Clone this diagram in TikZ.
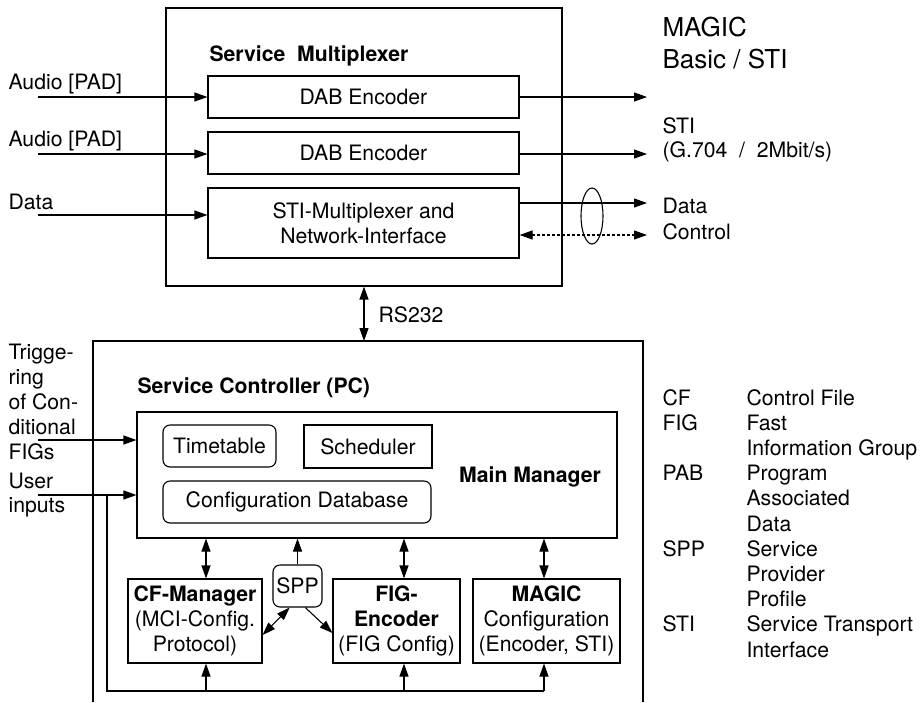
\documentclass[tikz,border=0pt]{standalone}
\usepackage{fontspec}
\setmainfont{TeX Gyre Heros}
\usetikzlibrary{arrows.meta}

\tikzset{
  blk/.style={draw, inner sep=0pt},
  rblk/.style={blk, rounded corners=7pt},
  lbl/.style={inner sep=0pt, anchor=base west},
  btxt/.style={font=\fontsize{21.2}{25}\selectfont\bfseries},
  big/.style={font=\fontsize{26}{32}\selectfont},
  sig/.style={-{Triangle[length=13pt,width=9pt]}},
  bisig/.style={{Triangle[length=13pt,width=9pt]}-{Triangle[length=13pt,width=9pt]}},
}

\begin{document}
\begin{tikzpicture}[x=1pt,y=-1pt,line width=1.1pt,font=\fontsize{21.2}{25}\selectfont]
   \useasboundingbox (0,0) rectangle (920,702);

   % service multiplexer
   \node[blk, minimum width=396pt, minimum height=278pt] (smux) at (364,147) {};
   \node[lbl, btxt] (smuxt) at (209,61) {Service \ Multiplexer};
   \node[blk, minimum width=311pt, minimum height=42pt] (enc1) at (363.5,97) {DAB Encoder};
   \node[blk, minimum width=311pt, minimum height=42pt] (enc2) at (363.5,153) {DAB Encoder};
   \node[blk, minimum width=311pt, minimum height=70pt, align=center] (stimux) at (363.5,223) {STI-Multiplexer and\\Network-Interface};

   % inputs
   \coordinate (ina1) at (38,97);
   \coordinate (ina2) at (38,154);
   \coordinate (ind) at (38,215);
   \node[lbl] (la1) at (8,89) {Audio [PAD]};
   \node[lbl] (la2) at (8,146) {Audio [PAD]};
   \node[lbl] (ld) at (8,209) {Data};
   \draw[sig] (ina1) -- (enc1.west);
   \draw[sig] (ina2) -- (enc2.west |- ina2);
   \draw[sig] (ind) -- (stimux.west |- ind);

   % outputs
   \coordinate (out1) at (647,97);
   \coordinate (out2) at (647,154);
   \coordinate (dout) at (647,203);
   \coordinate (cout) at (647,235);
   \draw[sig] (enc1.east) -- (out1);
   \draw[sig] (enc2.east |- out2) -- (out2);
   \draw[sig] (stimux.east |- dout) -- (dout);
   \draw[bisig, dash pattern=on 3pt off 2pt] (stimux.east |- cout) -- (cout);
   \draw (592,216) ellipse (11 and 28);

   \node[lbl, big] (magic) at (662,36) {MAGIC};
   \node[lbl, big] (basic) at (662,68) {Basic / STI};
   \node[lbl] (sti) at (662,133) {STI};
   \node[lbl] (g704) at (662,157) {(G.704 \ / \ 2Mbit/s)};
   \node[lbl] (ldat) at (662,213) {Data};
   \node[lbl] (lctl) at (662,239) {Control};

   % RS232 link
   \coordinate (sctop) at (364,341);
   \draw[bisig] (smux.south) -- (sctop);
   \node[lbl] (rs) at (378,322) {RS232};

   % service controller
   \draw (93,702) |- (sctop) -| (643,702);
   \node[lbl, btxt] (sct) at (137,393) {Service Controller (PC)};
   \node[blk, minimum width=480pt, minimum height=126pt] (mm) at (377,475) {};
   \node[rblk, minimum width=113pt, minimum height=42pt] (tt) at (219.5,446) {Timetable};
   \node[blk, minimum width=128pt, minimum height=43pt] (sch) at (368,446.5) {Scheduler};
   \node[rblk, minimum width=268pt, minimum height=42pt] (cdb) at (297,502) {Configuration Database};
   \node[lbl, btxt, anchor=base] (mmt) at (530,482) {Main Manager};

   \foreach \t [count=\i from 0] in {Trigge-, ring, of Con-, ditional, FIGs}
      \node[lbl] (tr\i) at (8,359+25*\i) {\t};
   \node[lbl] (us0) at (8,488) {User};
   \node[lbl] (us1) at (8,512) {inputs};
   \coordinate (trig) at (38,440);
   \coordinate (user) at (38,495);
   \draw[sig] (trig) -- (mm.west |- trig);
   \draw[sig] (user) -- (mm.west |- user);

   % lower blocks
   \node[blk, minimum width=134pt, minimum height=84pt, align=center] (cfm) at (195,621) {\textbf{CF-Manager}\\(MCI-Config.\\Protocol)};
   \node[blk, minimum width=127pt, minimum height=84pt, align=center] (fig) at (396.5,621) {\textbf{FIG-}\\\textbf{Encoder}\\(FIG Config)};
   \node[blk, minimum width=147pt, minimum height=84pt, align=center] (mgc) at (546.5,621) {\textbf{MAGIC}\\Configuration\\(Encoder, STI)};
   \node[rblk, minimum width=49pt, minimum height=42pt] (spp) at (297.5,586) {SPP};

   \draw[bisig] (mm.south -| 206,0) -- (cfm.north -| 206,0);
   \draw[bisig] (mm.south -| 404,0) -- (fig.north -| 404,0);
   \draw[bisig] (mm.south -| 544,0) -- (mgc.north -| 544,0);
   \draw[sig] (spp.north) -- (spp.north |- mm.south);
   \draw[bisig] (spp.-110) -- ([yshift=-14pt]cfm.east);
   \draw[sig] (spp.-70) -- ([yshift=-12pt]fig.west);

   % bus
   \coordinate (bus) at (107,691);
   \draw (user -| bus) -- (bus) -- (bus -| 544,0);
   \draw[sig] (bus -| 206,0) -- (cfm.south -| 206,0);
   \draw[sig] (bus -| 404,0) -- (fig.south -| 404,0);
   \draw[sig] (bus -| 544,0) -- (mgc.south -| 544,0);

   % legend
   \foreach \ab/\row in {CF/0, FIG/1, PAB/3, SPP/6, STI/9}
      \node[lbl] (ab\ab) at (662,405+25.2*\row) {\ab};
   \foreach \t [count=\i from 0] in {Control File, Fast, Information Group, Program, Associated, Data, Service, Provider, Profile, Service Transport, Interface}
      \node[lbl] (lg\i) at (746,405+25.2*\i) {\t};
\end{tikzpicture}
\end{document}
